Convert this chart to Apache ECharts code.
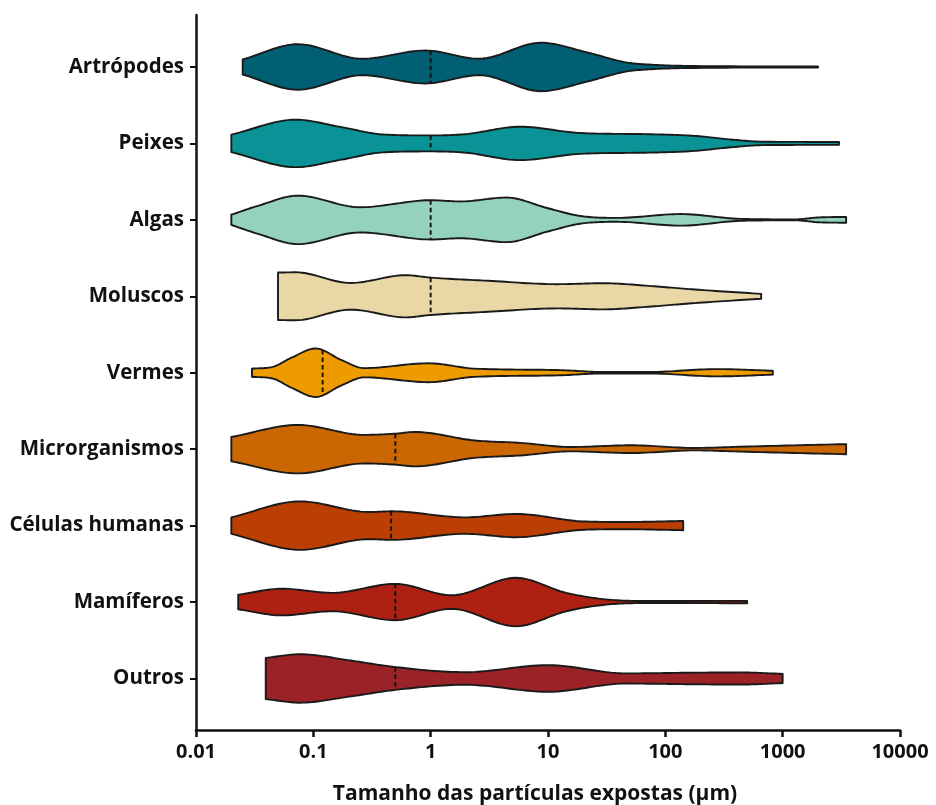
<!DOCTYPE html>
<html><head><meta charset="utf-8">
<script src="https://cdn.jsdelivr.net/npm/echarts@6/dist/echarts.min.js"></script>
<style>html,body{margin:0;padding:0;background:#fff}#c{width:936px;height:805px}</style>
</head><body><div id="c"></div>
<script>
// ---------- DATA ----------
const categories = ['Artrópodes','Peixes','Algas','Moluscos','Vermes','Microrganismos','Células humanas','Mamíferos','Outros'];
const medians = [1, 1, 1, 1, 0.12, 0.5, 0.46, 0.5, 0.5];
const xTickLabels = ['0.01','0.1','1','10','100','1000','10000'];

// particle size (µm) and relative density (1 = widest) along each violin
const artropodesSize    = [0.025, 0.074, 0.26, 0.9, 2.59, 8.7, 22, 46, 72, 178, 2000];
const artropodesDensity = [0.31, 0.94, 0.34, 0.68, 0.34, 1.0, 0.59, 0.19, 0.10, 0.04, 0.02];
const peixesSize    = [0.02, 0.0705, 0.174, 0.39, 1, 1.96, 5.8, 18.8, 72, 178, 363, 687, 3020];
const peixesDensity = [0.36, 0.98, 0.67, 0.37, 0.33, 0.38, 0.69, 0.43, 0.38, 0.31, 0.16, 0.07, 0.06];
const algasSize    = [0.02, 0.0343, 0.074, 0.249, 1, 1.8, 4.43, 9.97, 18.8, 38.5, 136, 438, 1290, 2010, 3475];
const algasDensity = [0.21, 0.59, 1.0, 0.52, 0.81, 0.76, 0.92, 0.48, 0.16, 0.08, 0.24, 0.04, 0.02, 0.10, 0.12];
const moluscosSize    = [0.05, 0.0705, 0.208, 0.612, 1, 3.08, 12, 29.5, 72, 178, 656];
const moluscosDensity = [0.98, 0.99, 0.55, 0.87, 0.77, 0.64, 0.50, 0.54, 0.43, 0.28, 0.10];
const vermesSize    = [0.03, 0.045, 0.065, 0.105, 0.174, 0.272, 0.96, 2.36, 12, 29.5, 72, 279, 824];
const vermesDensity = [0.17, 0.24, 0.62, 1.0, 0.52, 0.19, 0.39, 0.17, 0.11, 0.03, 0.03, 0.15, 0.08];
const microrganismosSize    = [0.02, 0.074, 0.272, 0.5, 0.733, 2.36, 5.82, 15.6, 50.5, 178, 438, 3475];
const microrganismosDensity = [0.50, 1.0, 0.59, 0.64, 0.71, 0.36, 0.26, 0.09, 0.16, 0.05, 0.10, 0.21];
const celulasSize    = [0.02, 0.077, 0.30, 0.467, 1.96, 5.32, 20.5, 46, 142];
const celulasDensity = [0.34, 1.0, 0.56, 0.59, 0.34, 0.48, 0.17, 0.15, 0.19];
const mamiferosSize    = [0.0229, 0.0538, 0.145, 0.5, 1.51, 5.32, 14.3, 29.5, 72, 498];
const mamiferosDensity = [0.30, 0.55, 0.38, 0.75, 0.28, 1.0, 0.38, 0.12, 0.04, 0.05];
const outrosSize    = [0.0393, 0.077, 0.208, 0.5, 1.96, 10, 46, 178, 438, 1000];
const outrosDensity = [0.85, 1.0, 0.74, 0.47, 0.26, 0.55, 0.21, 0.24, 0.25, 0.19];

// ---------- STYLE ----------
const colors = ['#005f73','#0a9396','#94d2bd','#e9d8a6','#ee9b00','#ca6702','#bb3e03','#ae2012','#9b2226'];
const sizeLists = [artropodesSize, peixesSize, algasSize, moluscosSize, vermesSize, microrganismosSize, celulasSize, mamiferosSize, outrosSize];
const densLists = [artropodesDensity, peixesDensity, algasDensity, moluscosDensity, vermesDensity, microrganismosDensity, celulasDensity, mamiferosDensity, outrosDensity];
const MAXW = 0.317; // max half-width in category units
const FONT = '"Open Sans", sans-serif';

function monotoneSample(xs, ys, steps) {
  const n = xs.length, d = [], t = new Array(n);
  for (let k = 0; k < n - 1; k++) d.push((ys[k+1]-ys[k])/(xs[k+1]-xs[k]));
  t[0] = d[0]; t[n-1] = d[n-2];
  for (let k = 1; k < n - 1; k++) t[k] = (d[k-1]*d[k] <= 0) ? 0 : (d[k-1]+d[k])/2;
  for (let k = 0; k < n - 1; k++) {
    if (d[k] === 0) { t[k] = 0; t[k+1] = 0; continue; }
    const a = t[k]/d[k], b = t[k+1]/d[k], s = a*a + b*b;
    if (s > 9) { const tau = 3/Math.sqrt(s); t[k] = tau*a*d[k]; t[k+1] = tau*b*d[k]; }
  }
  const out = [];
  for (let k = 0; k < n - 1; k++) {
    const h = xs[k+1]-xs[k];
    for (let j = 0; j < steps; j++) {
      const u = j/steps, u2 = u*u, u3 = u2*u;
      const y = (2*u3-3*u2+1)*ys[k] + (u3-2*u2+u)*h*t[k] + (-2*u3+3*u2)*ys[k+1] + (u3-u2)*h*t[k+1];
      out.push([xs[k]+u*h, Math.max(0.3, y)]);
    }
  }
  out.push([xs[n-1], Math.max(0.3, ys[n-1])]);
  return out;
}
function evalAt(samp, x) {
  for (let k = 0; k < samp.length - 1; k++) {
    if (x >= samp[k][0] && x <= samp[k+1][0]) {
      const f = (x - samp[k][0])/(samp[k+1][0]-samp[k][0]);
      return samp[k][1] + f*(samp[k+1][1]-samp[k][1]);
    }
  }
  return 0;
}

const chart = echarts.init(document.getElementById('c'), null, {renderer: 'canvas'});
chart.setOption({
  animation: false,
  backgroundColor: '#fff',
  grid: {left: 196, right: 36, top: 15, bottom: 75, containLabel: false, outerBoundsMode: 'none'},
  xAxis: {
    type: 'log', logBase: 10, min: 0.01, max: 10000,
    axisLine: {lineStyle: {color: '#111', width: 2.5}},
    axisTick: {show: true, length: 7, lineStyle: {color: '#111', width: 2.5}},
    minorTick: {show: false},
    splitLine: {show: false},
    axisLabel: {
      margin: 12, color: '#111', fontWeight: 'bold', fontSize: 20, fontFamily: FONT,
      formatter: v => xTickLabels[Math.round(Math.log10(v)) + 2]
    },
    name: 'Tamanho das partículas expostas (µm)',
    nameLocation: 'middle', nameGap: 54,
    nameTextStyle: {color: '#111', fontWeight: 'bold', fontSize: 21, fontFamily: FONT, padding: [0, 26, 0, 0]}
  },
  yAxis: {
    type: 'value', min: 0.326, max: 9.68,
    axisLine: {show: true, lineStyle: {color: '#111', width: 2.5}},
    splitLine: {show: false},
    axisTick: {show: true, length: 6, customValues: [1,2,3,4,5,6,7,8,9], lineStyle: {color: '#111', width: 2}},
    axisLabel: {
      customValues: [1,2,3,4,5,6,7,8,9], margin: 12,
      color: '#111', fontWeight: 'bold', fontSize: 20.5, fontFamily: FONT,
      formatter: v => categories[9 - Math.round(v)]
    }
  },
  series: [{
    type: 'custom',
    coordinateSystem: 'cartesian2d',
    clip: false,
    encode: {x: 0, y: 1},
    data: categories.map((c, i) => [medians[i], 9 - i]),
    renderItem: function (params, api) {
      const i = params.dataIndex;
      const yv = api.value(1);
      const c0 = api.coord([1, yv]), c1 = api.coord([1, yv + 1]);
      const unit = Math.abs(c0[1] - c1[1]);
      const cy = c0[1];
      const px = sizeLists[i].map(v => api.coord([v, yv])[0]);
      const hw = densLists[i].map(d => d * MAXW * unit);
      const samp = monotoneSample(px, hw, 16);
      const top = samp.map(p => [p[0], cy - p[1]]);
      const bot = samp.slice().reverse().map(p => [p[0], cy + p[1]]);
      const mx = api.coord([medians[i], yv])[0];
      const mh = evalAt(samp, mx);
      return {type: 'group', children: [
        {type: 'polygon', shape: {points: top.concat(bot)},
         style: {fill: colors[i], stroke: '#1a1a1a', lineWidth: 1.9, lineJoin: 'round'}},
        {type: 'line', shape: {x1: mx, y1: cy - mh, x2: mx, y2: cy + mh},
         style: {stroke: '#111', lineWidth: 1.9, lineDash: [4.5, 3]}}
      ]};
    }
  }]
});
</script></body></html>
